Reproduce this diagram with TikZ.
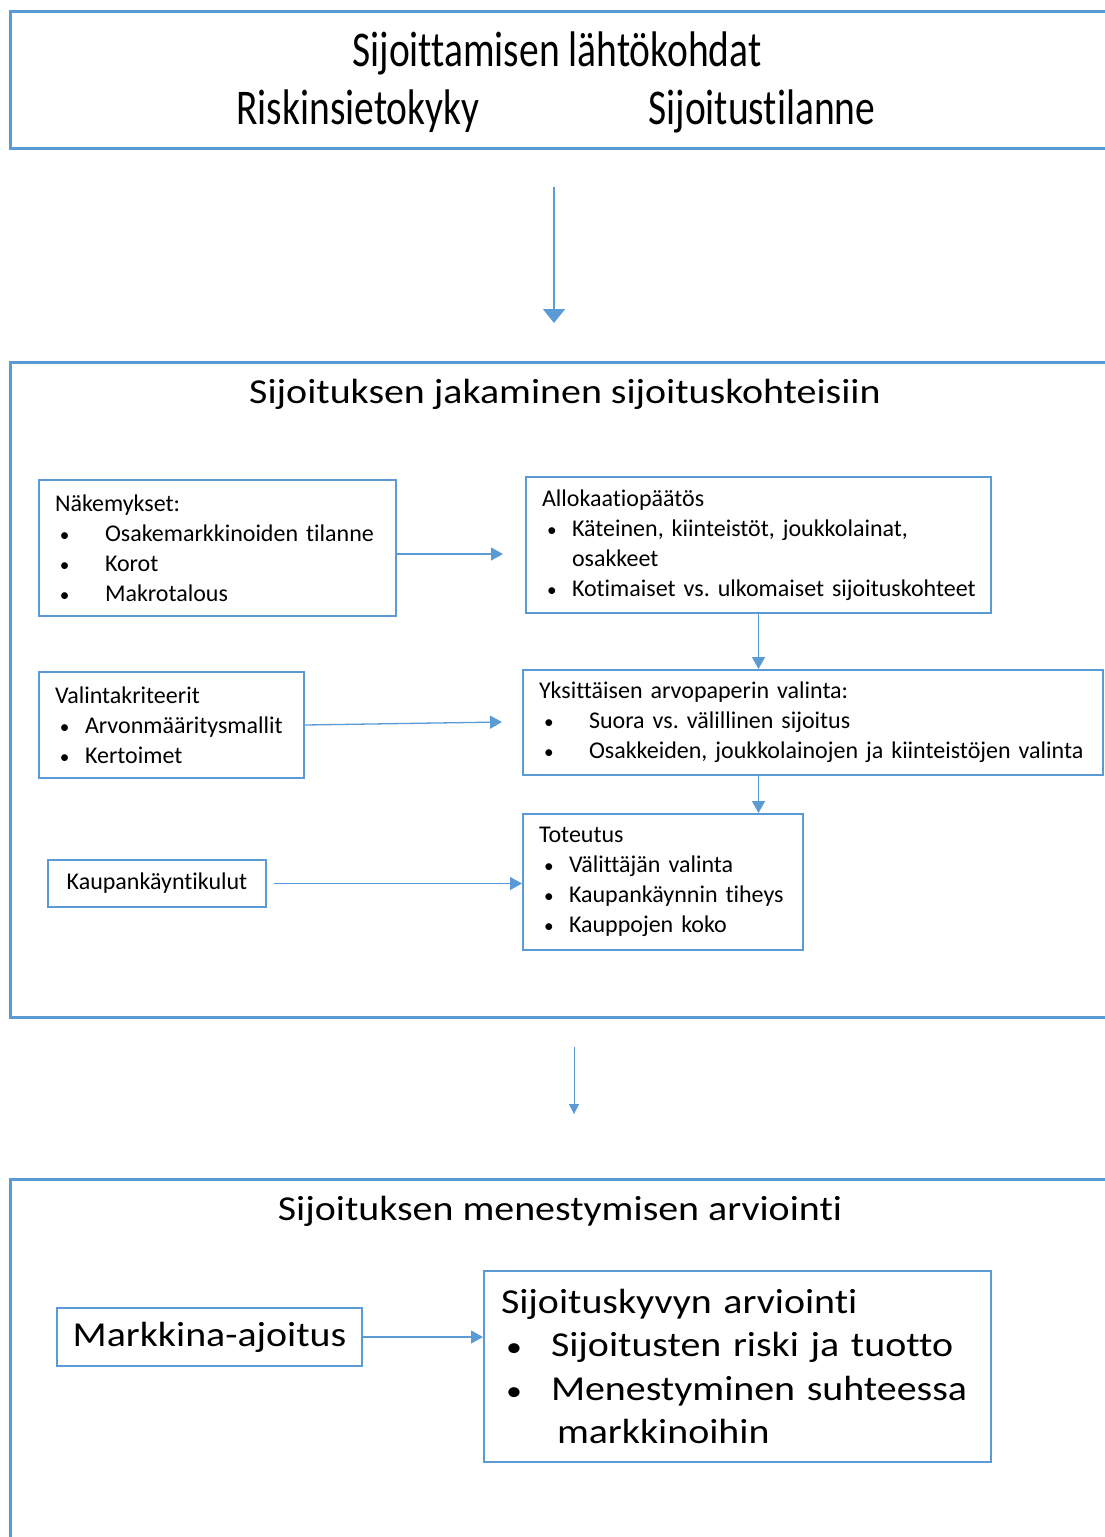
\documentclass[tikz,border=0pt]{standalone}
\usepackage{fontspec}
\setmainfont[Ligatures=NoCommon]{Carlito}
\newfontfamily\narrowfont[FakeStretch=0.79, Ligatures=NoCommon]{Carlito}
\newfontfamily\widefont[FakeStretch=1.14, Ligatures=NoCommon]{Carlito}
\usepackage{xcolor}
\usetikzlibrary{positioning, arrows.meta}
\definecolor{boxblue}{HTML}{5B9BD5}
\frenchspacing
\newcommand{\bulletitem}[2][30pt]{\hspace*{5pt}\makebox[\dimexpr#1-5pt\relax][l]{\scalebox{0.8}{•}}\mbox{#2}}

\begin{document}
\begin{tikzpicture}[x=1pt, y=-1pt,
    bigbox/.style={draw=boxblue, line width=2.5pt, anchor=north west, inner sep=0pt},
    smallbox/.style={draw=boxblue, line width=2pt, anchor=north west, align=left,
                     inner xsep=16pt, inner ysep=0pt, font=\fontsize{24}{30}\selectfont},
    largebox/.style={smallbox, inner xsep=17pt, font=\widefont\fontsize{35}{43.5}\selectfont},
    link/.style={draw=boxblue, line width=1.3pt, -{Triangle[width=13pt,length=12pt]}}]
  \useasboundingbox (0,0) rectangle (1105,1537);

  % top block
  \node[bigbox, minimum width=1110pt, minimum height=137pt] (lahto) at (9,10) {};
  \node[font=\narrowfont\fontsize{50}{60}\selectfont, anchor=base] (lahtotitle) at (557,66)
    {Sijoittamisen lähtökohdat};
  \node[font=\narrowfont\fontsize{50}{60}\selectfont, anchor=base] (riski) at (358,124)
    {Riskinsietokyky};
  \node[font=\narrowfont\fontsize{50}{60}\selectfont, anchor=base] (tilanne) at (762,124)
    {Sijoitustilanne};

  \coordinate (lahto-out) at (554,187);
  \coordinate (jako-in) at (554,323);
  \draw[link, line width=1.5pt, -{Triangle[width=22pt,length=14pt]}] (lahto-out) -- (jako-in);

  % middle block
  \node[bigbox, minimum width=1110pt, minimum height=655pt] (jako) at (9,361) {};
  \node[font=\widefont\fontsize{35}{43}\selectfont, anchor=base] (jakotitle) at (565,403)
    {Sijoituksen jakaminen sijoituskohteisiin};

  \node[smallbox, text width=325pt, minimum height=136pt] (nakemykset) at (38,479) {%
    Näkemykset:\\
    \bulletitem[50pt]{Osakemarkkinoiden tilanne}\\
    \bulletitem[50pt]{Korot}\\
    \bulletitem[50pt]{Makrotalous}};
  \node[smallbox, text width=433pt, minimum height=136pt] (allokaatio) at (525,476) {%
    Allokaatiopäätös\\
    \bulletitem{Käteinen, kiinteistöt, joukkolainat,}\\
    \hspace*{30pt}osakkeet\\
    \bulletitem{Kotimaiset vs. ulkomaiset sijoituskohteet}};
  \node[smallbox, text width=233pt, minimum height=106pt] (valinta) at (38,671) {%
    Valintakriteerit\\
    \bulletitem{Arvonmääritysmallit}\\
    \bulletitem{Kertoimet}};
  \node[smallbox, text width=548pt, minimum height=105pt] (yksittainen) at (522,669) {%
    Yksittäisen arvopaperin valinta:\\
    \bulletitem[50pt]{Suora vs. välillinen sijoitus}\\
    \bulletitem[50pt]{Osakkeiden, joukkolainojen ja kiinteistöjen valinta}};
  \node[smallbox, text width=248pt, minimum height=136pt] (toteutus) at (522,813) {%
    Toteutus\\
    \bulletitem{Välittäjän valinta}\\
    \bulletitem{Kaupankäynnin tiheys}\\
    \bulletitem{Kauppojen koko}};
  \node[smallbox, minimum width=218pt, minimum height=47pt] (kaupan) at (47,859)
    {Kaupankäyntikulut};

  \coordinate (allo-in) at (503,554);
  \coordinate (yks-in) at (502,722);
  \draw[link] (nakemykset.east |- allo-in) -- (allo-in);
  \draw[link] (valinta.east) -- (yks-in);
  \draw[link] (allokaatio.south) -- (allokaatio.south |- yksittainen.north);
  \draw[link] (allokaatio.south |- yksittainen.south) -- (allokaatio.south |- toteutus.north);
  \draw[link] ([xshift=7pt]kaupan.east) -- (toteutus.west |- kaupan.east);

  \coordinate (jako-out) at (574,1047);
  \coordinate (arvio-in) at (574,1114);
  \draw[link, line width=1pt, -{Triangle[width=10pt,length=10pt]}] (jako-out) -- (arvio-in);

  % bottom block
  \node[bigbox, minimum width=1110pt, minimum height=370pt] (arvio) at (9,1178) {};
  \node[font=\widefont\fontsize{35}{43}\selectfont, anchor=base] (arviotitle) at (560,1220)
    {Sijoituksen menestymisen arviointi};

  \node[largebox, inner xsep=10pt, minimum width=305pt, minimum height=58pt] (markkina) at (56,1307)
    {Markkina-ajoitus};
  \node[largebox, text width=473pt, minimum height=191pt] (sijoituskyky) at (483,1270) {%
    Sijoituskyvyn arviointi\\
    \bulletitem[50pt]{Sijoitusten riski ja tuotto}\\
    \bulletitem[50pt]{Menestyminen suhteessa}\\
    \hspace*{56pt}markkinoihin};
  \draw[link] (markkina.east) -- (sijoituskyky.west |- markkina.east);
\end{tikzpicture}
\end{document}
